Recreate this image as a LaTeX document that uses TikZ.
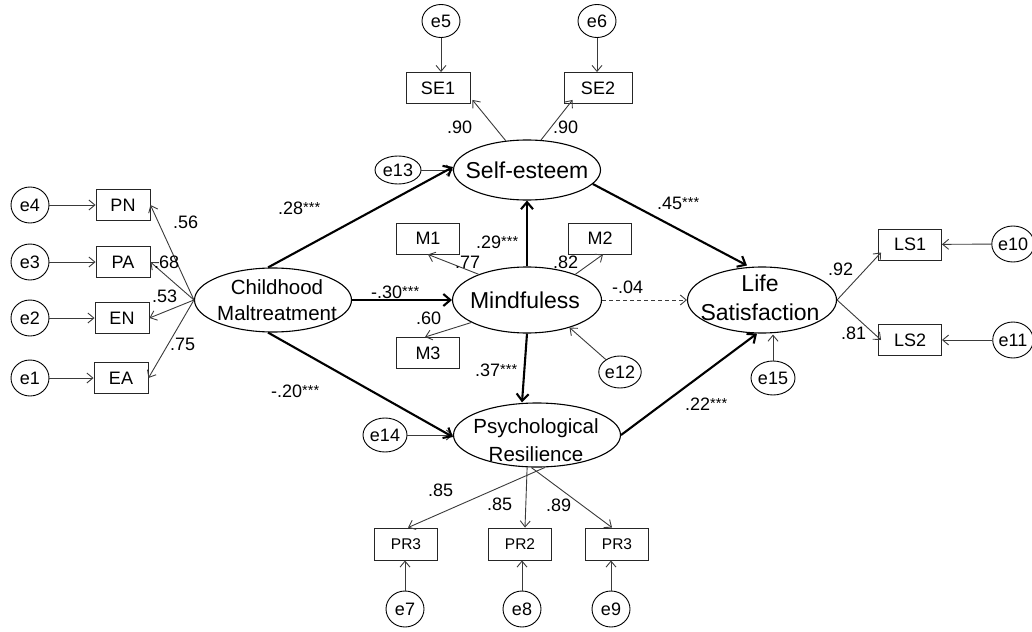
\documentclass[tikz,border=0pt]{standalone}
\usepackage{fontspec}
\setmainfont{Liberation Sans}
\usetikzlibrary{arrows.meta,shapes.geometric}
\definecolor{thinc}{HTML}{3A3A3A}
\tikzset{
  lat/.style={ellipse, draw=black, line width=1.1pt, inner sep=0pt},
  obs/.style={rectangle, draw=black!85, line width=0.9pt, minimum width=54, minimum height=31, inner sep=0pt, font=\fontsize{18}{18}\selectfont},
  obsb/.style={obs, minimum width=63, font=\fontsize{18}{18}\selectfont},
  obss/.style={obs, minimum width=63, minimum height=32, font=\fontsize{15.5}{16}\selectfont},
  err/.style={ellipse, draw=black, line width=0.9pt, minimum width=38, minimum height=36, inner sep=0pt, font=\fontsize{18}{18}\selectfont},
  ltext/.style={inner sep=0pt, align=center},
  big/.style={font=\fontsize{23}{24}\selectfont},
  mid/.style={font=\fontsize{20.5}{26}\selectfont},
  thinarr/.style={draw=thinc, line width=0.9pt, -{Straight Barb[length=6pt,width=10pt]}},
  thickarr/.style={draw=black, line width=2.1pt, -{Straight Barb[length=7pt,width=12pt]}},
  coef/.style={anchor=west, inner sep=0pt, font=\fontsize{18}{18}\selectfont}
}
\newcommand{\sig}{\raisebox{1.5pt}{\fontsize{14.5}{15}\selectfont ***}}
\begin{document}
\begin{tikzpicture}[x=1pt,y=-1pt]
\useasboundingbox (0,0) rectangle (1032,631);

% latent variables
\node[lat, minimum width=157, minimum height=64] (cm) at (273,300) {};
\node[ltext, mid] (cmt) at (277,300) {Childhood\\Maltreatment};
\node[lat, minimum width=147, minimum height=60] (se) at (527,170) {};
\node[ltext, big] (set) at (527,170) {Self-esteem};
\node[lat, minimum width=149, minimum height=66] (m) at (527,300) {};
\node[ltext, big] (mt) at (525,300) {Mindfuless};
\node[lat, minimum width=167, minimum height=64] (pr) at (537,435) {};
\node[ltext, font=\fontsize{20.5}{28}\selectfont] (prt) at (536,440) {Psychological\\Resilience};
\node[lat, minimum width=149, minimum height=66] (ls) at (762,300) {};
\node[ltext, font=\fontsize{23}{29}\selectfont] (lst) at (760,298) {Life\\Satisfaction};

% observed indicators
\node[obs] (pn) at (123,205) {PN};
\node[obs] (pa) at (123,262) {PA};
\node[obs] (en) at (122,318) {EN};
\node[obs] (ea) at (121,378) {EA};
\node[obsb, minimum width=64] (se1) at (438,88) {SE1};
\node[obsb, minimum width=68] (se2) at (598,88) {SE2};
\node[obsb] (m1) at (428,238.5) {M1};
\node[obsb] (m2) at (600,238.5) {M2};
\node[obsb] (m3) at (428,353) {M3};
\node[obsb] (ls1) at (910,244.5) {LS1};
\node[obsb] (ls2) at (910,340) {LS2};
\node[obss] (prl) at (406,544) {PR3};
\node[obss] (pr2) at (520,544) {PR2};
\node[obss] (prr) at (617,544) {PR3};

% errors
\node[err] (e4) at (30,205) {e4};
\node[err] (e3) at (30,262) {e3};
\node[err] (e2) at (30,318) {e2};
\node[err] (e1) at (30,378) {e1};
\node[err, minimum height=33] (e5) at (441,21) {e5};
\node[err, minimum height=33] (e6) at (597,21) {e6};
\node[err, minimum width=46, minimum height=28] (e13) at (398,170) {e13};
\node[err, minimum width=36, minimum height=32] (e12) at (620,372) {e12};
\node[err, minimum width=44, minimum height=34] (e14) at (385,435) {e14};
\node[err, minimum width=44, minimum height=34] (e15) at (773,378) {e15};
\node[err] (e10) at (1013,244) {e10};
\node[err] (e11) at (1013,340) {e11};
\node[err] (e7) at (405,609) {e7};
\node[err] (e8) at (522,609) {e8};
\node[err] (e9) at (611,609) {e9};

% error arrows
\draw[thinarr] (e4) -- (pn);
\draw[thinarr] (e3) -- (pa);
\draw[thinarr] (e2) -- (en);
\draw[thinarr] (e1) -- (ea);
\draw[thinarr] (e5.south) -- (e5.south |- se1.north);
\draw[thinarr] (e6.south) -- (e6.south |- se2.north);
\draw[thinarr] (e13) -- (se.west);
\draw[thinarr] (e12) -- (m.327);
\draw[thinarr] (e14) -- (pr.west);
\draw[thinarr] (e15.north) -- ([yshift=-1]e15.north |- ls.south);
\draw[thinarr] (e10) -- (ls1);
\draw[thinarr] (e11) -- (ls2);
\draw[thinarr] (e7.north) -- (e7.north |- prl.south);
\draw[thinarr] (e8.north) -- (e8.north |- pr2.south);
\draw[thinarr] (e9.north) -- (e9.north |- prr.south);

% loadings
\draw[thinarr] (cm.west) -- (pn.east);
\draw[thinarr] (cm.west) -- (pa.east);
\draw[thinarr] (cm.west) -- (en.east);
\draw[thinarr] (cm.west) -- (ea.east);
\draw[thinarr] (se.126) -- ([xshift=2,yshift=4]se1.south east);
\draw[thinarr] (se.65) -- ([xshift=9,yshift=4]se2.south west);
\draw[thinarr] (m.152) -- (m1.south);
\draw[thinarr] (m.28) -- ([xshift=3]m2.south);
\draw[thinarr] (m.202) -- ([xshift=-3]m3.north);
\draw[thinarr] (ls.east) -- ([xshift=3,yshift=-8]ls1.west);
\draw[thinarr] (ls.east) -- ([xshift=3]ls2.west);
\draw[thinarr] (pr.284) -- ([xshift=2]prl.north);
\draw[thinarr] (pr.253) -- ([xshift=5]pr2.north);
\draw[thinarr] (pr.260) -- ([xshift=-5]prr.north);

% structural paths
\draw[thickarr] ([xshift=-5]cm.north) -- ([yshift=3]se.west);
\draw[thickarr] (cm.east) -- (m.west);
\draw[thickarr] ([xshift=-5]cm.south) -- ([yshift=-2]pr.west);
\draw[thickarr] (m.north) -- (se.south);
\draw[thickarr] (m.south) -- ([xshift=-15]pr.north);
\draw[thickarr] (se.-12) -- ([xshift=-15,yshift=1]ls.north);
\draw[thickarr] (pr.east) -- ([xshift=-5]ls.south);
\draw[thinarr, dashed, dash pattern=on 4pt off 3pt] (m.east) -- (ls.west);

% coefficients
\node[coef] (c56) at (173,222) {.56};
\node[coef] (c68) at (154,262) {.68};
\node[coef] (c53) at (152,296) {.53};
\node[coef] (c75) at (170,344) {.75};
\node[coef] (c28) at (278,208) {.28\sig};
\node[coef] (c30) at (371,292) {-.30\sig};
\node[coef] (c20) at (271,391) {-.20\sig};
\node[coef] (c29) at (476,242) {.29\sig};
\node[coef] (c37) at (475,370) {.37\sig};
\node[coef] (c45) at (657,203) {.45\sig};
\node[coef] (c22) at (685,404) {.22\sig};
\node[coef] (c04) at (612,287) {-.04};
\node[coef] (c77) at (455,262) {.77};
\node[coef] (c82) at (553,262) {.82};
\node[coef] (c60) at (416,318) {.60};
\node[coef] (c90a) at (447,127) {.90};
\node[coef] (c90b) at (553,127) {.90};
\node[coef] (c92) at (828,269) {.92};
\node[coef] (c81) at (841,333) {.81};
\node[coef] (c85a) at (428,490) {.85};
\node[coef] (c85b) at (487,504) {.85};
\node[coef] (c89) at (546,505) {.89};
\end{tikzpicture}
\end{document}
